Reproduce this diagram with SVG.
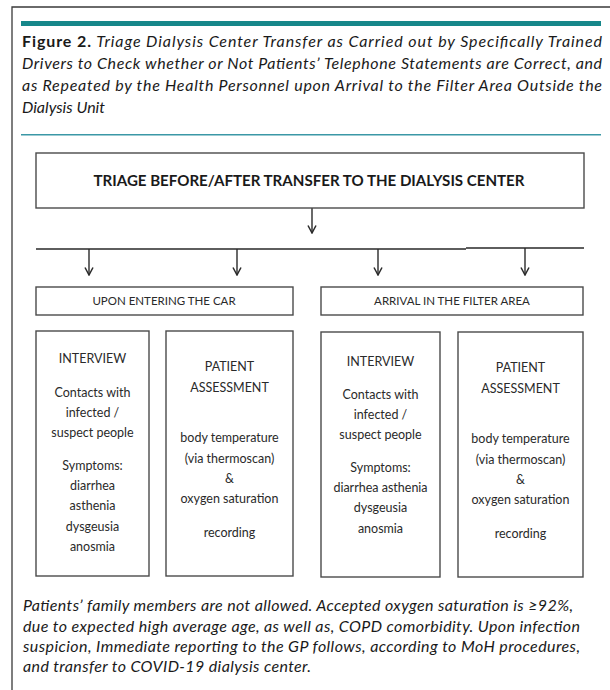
<svg xmlns="http://www.w3.org/2000/svg" width="610" height="690" viewBox="0 0 610 690">
<defs>
<style>
.frame{fill:none;stroke:#3a3a3a;stroke-width:1.3}
.box{fill:#fff;stroke:#4a4a4a;stroke-width:1.4}
.wire{fill:none;stroke:#2a2a2a;stroke-width:1.4}
.cap{font-family:Lato,"Open Sans",sans-serif;font-size:16px;fill:#1a1a1a}
.bt{font-family:Lato,"Liberation Sans",sans-serif;font-size:12.5px;fill:#2a2a2a;text-anchor:middle}
.hd{font-family:Lato,"Liberation Sans",sans-serif;font-size:11.5px;fill:#2a2a2a;text-anchor:middle}
.ti{font-family:Lato,"Liberation Sans",sans-serif;font-size:15.5px;font-weight:bold;fill:#1a1a1a;text-anchor:middle}
</style>
<marker id="ah" viewBox="0 0 10 10" refX="9" refY="5" markerWidth="10" markerHeight="10" markerUnits="userSpaceOnUse" orient="auto">
<path d="M1.5,1 L9,5 L1.5,9" fill="none" stroke="#2a2a2a" stroke-width="1.5"/>
</marker>
</defs>
<rect width="610" height="690" fill="#fff"/>
<path class="frame" d="M12,690 V7 H610"/>
<rect x="21" y="21" width="580" height="5" fill="#16878a"/>
<g id="caption">
<text class="cap" x="22" y="47" textLength="580" lengthAdjust="spacing"><tspan font-weight="bold">Figure 2.</tspan><tspan font-style="italic"> Triage Dialysis Center Transfer as Carried out by Specifically Trained</tspan></text>
<text class="cap" x="22" y="69" textLength="580" lengthAdjust="spacing" font-style="italic">Drivers to Check whether or Not Patients’ Telephone Statements are Correct, and</text>
<text class="cap" x="22" y="91" textLength="580" lengthAdjust="spacing" font-style="italic">as Repeated by the Health Personnel upon Arrival to the Filter Area Outside the</text>
<text class="cap" x="22" y="113" font-style="italic">Dialysis Unit</text>
</g>
<rect x="21" y="134" width="580" height="1.5" fill="#3b98a6"/>
<g id="connectors">
<line class="wire" x1="312" y1="208" x2="312" y2="233" marker-end="url(#ah)"/>
<path class="wire" d="M36,249 H466 M466,248 H584"/>
<line class="wire" x1="89" y1="249" x2="89" y2="275" marker-end="url(#ah)"/>
<line class="wire" x1="237" y1="249" x2="237" y2="275" marker-end="url(#ah)"/>
<line class="wire" x1="378" y1="249" x2="378" y2="275" marker-end="url(#ah)"/>
<line class="wire" x1="525" y1="248" x2="525" y2="275" marker-end="url(#ah)"/>
</g>
<g id="triage">
<rect class="box" x="36" y="153" width="548" height="55"/>
<text class="ti" x="309" y="186" textLength="431" lengthAdjust="spacingAndGlyphs">TRIAGE BEFORE/AFTER TRANSFER TO THE DIALYSIS CENTER</text>
</g>
<g id="car">
<rect class="box" x="36" y="287" width="257" height="28"/>
<text class="hd" x="164" y="305">UPON ENTERING THE CAR</text>
</g>
<g id="filter">
<rect class="box" x="321" y="287" width="262" height="28"/>
<text class="hd" x="452" y="305">ARRIVAL IN THE FILTER AREA</text>
</g>
<g id="interview1">
<rect class="box" x="36" y="331" width="113" height="245"/>
<text class="bt" x="92.5" y="363">INTERVIEW</text>
<text class="bt" x="92.5" y="397">Contacts with</text>
<text class="bt" x="92.5" y="417">infected /</text>
<text class="bt" x="92.5" y="437">suspect people</text>
<text class="bt" x="92.5" y="470">Symptoms:</text>
<text class="bt" x="92.5" y="490">diarrhea</text>
<text class="bt" x="92.5" y="510">asthenia</text>
<text class="bt" x="92.5" y="531">dysgeusia</text>
<text class="bt" x="92.5" y="551">anosmia</text>
</g>
<g id="assessment1">
<rect class="box" x="166" y="331" width="127" height="245"/>
<text class="bt" x="229.5" y="371">PATIENT</text>
<text class="bt" x="229.5" y="392">ASSESSMENT</text>
<text class="bt" x="229.5" y="442">body temperature</text>
<text class="bt" x="229.5" y="463">(via thermoscan)</text>
<text class="bt" x="229.5" y="483">&amp;</text>
<text class="bt" x="229.5" y="503">oxygen saturation</text>
<text class="bt" x="229.5" y="537">recording</text>
</g>
<g id="interview2">
<rect class="box" x="321" y="332" width="119" height="245"/>
<text class="bt" x="380.5" y="366">INTERVIEW</text>
<text class="bt" x="380.5" y="399">Contacts with</text>
<text class="bt" x="380.5" y="419">infected /</text>
<text class="bt" x="380.5" y="439">suspect people</text>
<text class="bt" x="380.5" y="472">Symptoms:</text>
<text class="bt" x="380.5" y="492">diarrhea asthenia</text>
<text class="bt" x="380.5" y="512">dysgeusia</text>
<text class="bt" x="380.5" y="533">anosmia</text>
</g>
<g id="assessment2">
<rect class="box" x="458" y="332" width="125" height="245"/>
<text class="bt" x="520.5" y="372">PATIENT</text>
<text class="bt" x="520.5" y="393">ASSESSMENT</text>
<text class="bt" x="520.5" y="443">body temperature</text>
<text class="bt" x="520.5" y="464">(via thermoscan)</text>
<text class="bt" x="520.5" y="484">&amp;</text>
<text class="bt" x="520.5" y="504">oxygen saturation</text>
<text class="bt" x="520.5" y="538">recording</text>
</g>
<g id="note" font-style="italic">
<text class="cap" x="23" y="611" textLength="550" lengthAdjust="spacing">Patients’ family members are not allowed. Accepted oxygen saturation is ≥92%,</text>
<text class="cap" x="23" y="632" textLength="557" lengthAdjust="spacing">due to expected high average age, as well as, COPD comorbidity. Upon infection</text>
<text class="cap" x="23" y="652" textLength="557" lengthAdjust="spacing">suspicion, Immediate reporting to the GP follows, according to MoH procedures,</text>
<text class="cap" x="23" y="672" textLength="288" lengthAdjust="spacing">and transfer to COVID-19 dialysis center.</text>
</g>
</svg>
